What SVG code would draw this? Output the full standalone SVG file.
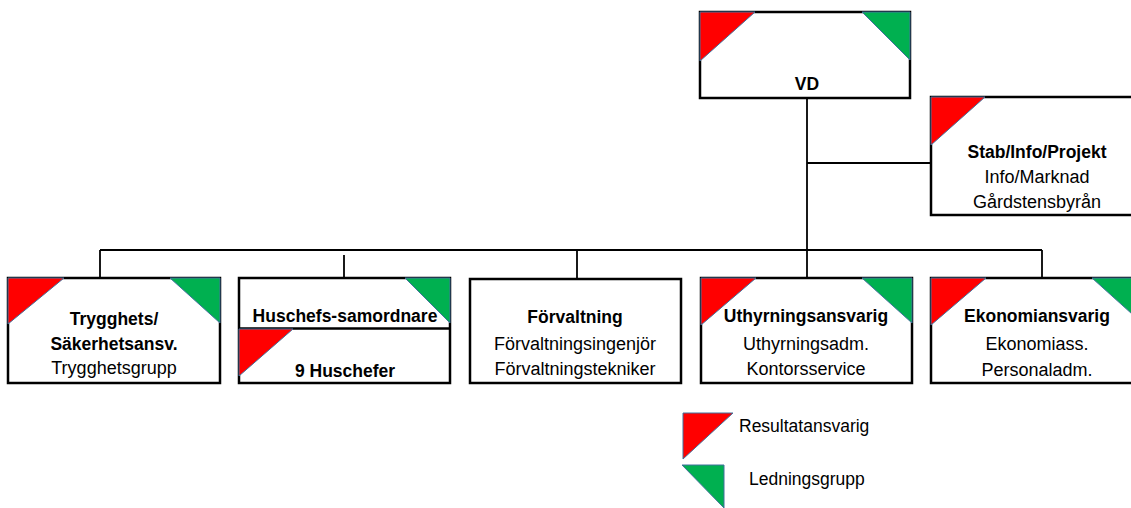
<svg xmlns="http://www.w3.org/2000/svg" width="1131" height="508" viewBox="0 0 1131 508">
<style>
.box{fill:#fff;stroke:#000;stroke-width:2.5}
.conn{fill:none;stroke:#000;stroke-width:1.8}
.red{fill:#FF0000;stroke:#41719C;stroke-width:1}
.grn{fill:#00B050;stroke:#41719C;stroke-width:1}
text{font-family:"Liberation Sans",Arial,sans-serif;font-size:18px;fill:#000;text-anchor:middle}
.b{font-weight:bold;font-size:17.5px}
.lg{text-anchor:start;font-size:17.5px}
</style>
<rect width="1131" height="508" fill="#fff"/>
<g id="connectors">
<path class="conn" d="M807,98 V278"/>
<path class="conn" d="M807,163 H931"/>
<path class="conn" d="M100,250 H1042"/>
<path class="conn" d="M100,250 V278"/>
<path class="conn" d="M344,255 V278"/>
<path class="conn" d="M577,250 V279"/>
<path class="conn" d="M1042,250 V278"/>
</g>
<g id="vd">
<rect class="box" x="700" y="12" width="210" height="86"/>
<polygon class="red" points="700,12 755,12 700,61"/>
<polygon class="grn" points="862,12 910,12 910,60"/>
<text class="b" x="807" y="90">VD</text>
</g>
<g id="stab">
<rect class="box" x="931" y="97" width="211" height="118"/>
<polygon class="red" points="931,97 985,97 931,145"/>
<text class="b" x="1037" y="158">Stab/Info/Projekt</text>
<text x="1037" y="183">Info/Marknad</text>
<text x="1037" y="208">Gårdstensbyrån</text>
</g>
<g id="trygghet">
<rect class="box" x="8" y="278" width="212" height="105"/>
<polygon class="red" points="8,278 64,278 8,324"/>
<polygon class="grn" points="170,278 220,278 220,323"/>
<text class="b" x="114" y="325">Trygghets/</text>
<text class="b" x="114" y="350">Säkerhetsansv.</text>
<text x="114" y="374">Trygghetsgrupp</text>
</g>
<g id="huschefs">
<rect class="box" x="239" y="278" width="211" height="105"/>
<path class="conn" d="M239,328.5 H450" style="stroke-width:2.5"/>
<polygon class="grn" points="405,278 450,278 450,323"/>
<polygon class="red" points="239,329 293,329 239,376"/>
<text class="b" x="345" y="322">Huschefs-samordnare</text>
<text class="b" x="345" y="377">9 Huschefer</text>
</g>
<g id="forvaltning">
<rect class="box" x="470" y="279" width="211" height="104"/>
<text class="b" x="575" y="323">Förvaltning</text>
<text x="575" y="350">Förvaltningsingenjör</text>
<text x="575" y="375">Förvaltningstekniker</text>
</g>
<g id="uthyrning">
<rect class="box" x="701" y="278" width="211" height="105"/>
<polygon class="red" points="701,278 756,278 701,325"/>
<polygon class="grn" points="862,278 912,278 912,323"/>
<text class="b" x="806" y="322">Uthyrningsansvarig</text>
<text x="806" y="350">Uthyrningsadm.</text>
<text x="806" y="375">Kontorsservice</text>
</g>
<g id="ekonomi">
<rect class="box" x="931" y="278" width="211" height="105"/>
<polygon class="red" points="931,278 986,278 931,325"/>
<polygon class="grn" points="1092,278 1142,278 1142,323"/>
<text class="b" x="1037" y="322">Ekonomiansvarig</text>
<text x="1037" y="350">Ekonomiass.</text>
<text x="1037" y="376">Personaladm.</text>
</g>
<g id="legend-resultat">
<polygon class="red" points="683,413 733,413 683,459"/>
<text class="lg" x="739" y="432">Resultatansvarig</text>
</g>
<g id="legend-ledning">
<polygon class="grn" points="682,465 724,465 724,508"/>
<text class="lg" x="749" y="485">Ledningsgrupp</text>
</g>
</svg>
